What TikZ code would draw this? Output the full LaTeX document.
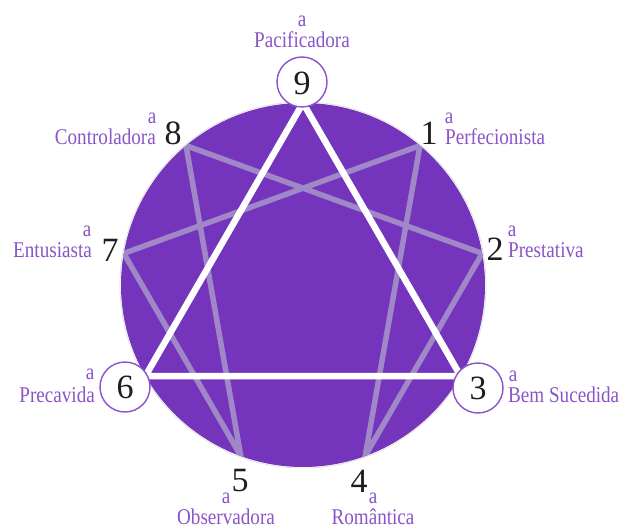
\documentclass[tikz,border=0pt]{standalone}
\usepackage{fontspec}
\setmainfont{Liberation Serif}
\newfontfamily\labfont[FakeStretch=0.85]{Liberation Serif}
\definecolor{enpurple}{RGB}{116,52,188}
\definecolor{enlav}{RGB}{160,136,200}
\definecolor{enlab}{RGB}{138,84,200}
\definecolor{ennum}{RGB}{30,30,30}
\begin{document}
\begin{tikzpicture}[x=1pt,y=-1pt,
  lab/.style={inner sep=0pt,text=enlab,font=\labfont\fontsize{22.5}{22.5}\selectfont},
  num/.style={inner sep=0pt,text=ennum,font=\fontsize{34}{34}\selectfont},
  ring/.style={circle,draw=enlab,line width=1.4pt,fill=white,minimum size=50pt,inner sep=0pt},
  hexad/.style={draw=enlav,line width=5.5pt,line join=miter},
  tri/.style={draw=white,line width=6.5pt,line join=miter}]
\useasboundingbox (0,0) rectangle (620,529);
% main disc
\coordinate (c) at (303,285);
\fill[enpurple] (c) circle[radius=182];
\draw[black!12,line width=0.8pt] (c) circle[radius=183];
% points on the circle
\coordinate (p9) at (303,103);
\coordinate (p1) at (420.0,145.6);
\coordinate (p2) at (482.2,253.4);
\coordinate (p3) at (460.6,376.0);
\coordinate (p4) at (365.2,456.0);
\coordinate (p5) at (240.8,456.0);
\coordinate (p6) at (145.4,376.0);
\coordinate (p7) at (123.8,253.4);
\coordinate (p8) at (186.0,145.6);
\begin{scope}
  \clip (c) circle[radius=182];
  \draw[hexad] (p1) -- (p4) -- (p2) -- (p8) -- (p5) -- (p7) -- cycle;
  \draw[tri] (p9) -- (p3) -- (p6) -- cycle;
\end{scope}
% rings
\node[ring] (r9) at (302,82) {};
\node[ring] (r6) at (125,387) {};
\node[ring] (r3) at (478,388) {};
% numbers
\node[num] (n9) at (302,83) {9};
\node[num] (n8) at (173,133) {8};
\node[num] (n1) at (429,133) {1};
\node[num] (n7) at (110,250) {7};
\node[num] (n2) at (495,249) {2};
\node[num] (n6) at (125,387) {6};
\node[num] (n3) at (478,388) {3};
\node[num] (n5) at (240,481) {5};
\node[num] (n4) at (359,481) {4};
% small a
\node[lab,anchor=base] (a9) at (302,27) {a};
\node[lab,anchor=base] (a8) at (152,124) {a};
\node[lab,anchor=base] (a1) at (449,124) {a};
\node[lab,anchor=base] (a7) at (87,236) {a};
\node[lab,anchor=base] (a2) at (512,236) {a};
\node[lab,anchor=base] (a6) at (90,379) {a};
\node[lab,anchor=base] (a3) at (513,381) {a};
\node[lab,anchor=base] (a5) at (226,503) {a};
\node[lab,anchor=base] (a4) at (373,503) {a};
% labels
\node[lab,anchor=base] (l9) at (302,48) {Pacificadora};
\node[lab,anchor=base east] (l8) at (156,145) {Controladora};
\node[lab,anchor=base west] (l1) at (445,145) {Perfecionista};
\node[lab,anchor=base east] (l7) at (92,257) {Entusiasta};
\node[lab,anchor=base west] (l2) at (508,257) {Prestativa};
\node[lab,anchor=base east] (l6) at (95,402) {Precavida};
\node[lab,anchor=base west] (l3) at (508,402) {Bem Sucedida};
\node[lab,anchor=base] (l5) at (226,524) {Observadora};
\node[lab,anchor=base] (l4) at (373,524) {Romântica};
\end{tikzpicture}
\end{document}
